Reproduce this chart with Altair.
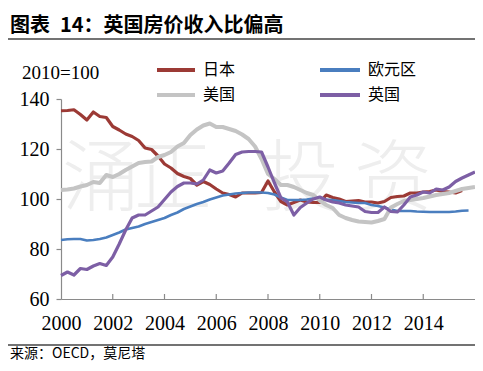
import altair as alt
import pandas as pd

series = ["日本", "欧元区", "美国", "英国"]
colors = ["#9C3A35", "#4A7EBF", "#C4C4C4", "#7D5FA5"]
widths = [3.2, 2.6, 4.0, 3.2]

x_ticks = [2000, 2002, 2004, 2006, 2008, 2010, 2012, 2014]
y_ticks = [60, 80, 100, 120, 140]

japan = [135.3, 135.4, 135.7, 133.8, 131.6, 134.8, 133.0, 132.6,
         129.0, 127.6, 126.0, 125.0, 123.4, 120.4, 119.8, 117.2,
         114.0, 112.4, 110.2, 109.0, 108.2, 105.6, 107.0, 105.8,
         104.0, 102.4, 101.8, 100.8, 102.4, 102.4, 102.4, 102.6,
         107.2, 102.8, 99.0, 97.6, 98.6, 99.6, 98.8, 98.6,
         98.6, 101.6, 100.6, 100.0, 99.0, 99.2, 99.4, 98.8,
         98.8, 98.4, 99.0, 100.6, 101.0, 101.2, 102.4, 102.4,
         102.8, 103.0, 103.6, 103.0, 102.8, 102.4, 103.4]

euro = [83.6, 83.9, 84.0, 84.0, 83.4, 83.6, 84.0, 84.6,
        85.6, 86.6, 87.8, 88.4, 89.0, 90.0, 90.8, 91.6,
        92.4, 93.6, 94.6, 96.0, 97.0, 98.0, 98.8, 99.8,
        100.6, 101.4, 101.8, 102.2, 102.4, 102.6, 102.6, 102.6,
        102.4, 101.8, 100.6, 99.6, 99.6, 99.6, 99.8, 100.2,
        100.2, 99.8, 99.6, 99.2, 98.8, 98.6, 98.4, 98.4,
        97.6, 97.2, 96.6, 95.8, 95.2, 95.2, 95.2, 95.0,
        94.9, 94.8, 94.8, 94.8, 94.8, 95.0, 95.3, 95.4]

usa = [103.6, 103.8, 104.2, 105.0, 105.6, 106.8, 106.4, 109.6,
       108.8, 110.0, 111.6, 113.0, 114.4, 114.8, 115.0, 116.8,
       117.6, 118.8, 121.0, 122.4, 125.6, 127.8, 129.4, 130.2,
       128.8, 128.8, 128.0, 127.2, 125.8, 124.0, 121.0, 116.0,
       110.0, 108.0, 105.6, 105.6, 104.8, 103.6, 102.4, 101.6,
       99.4, 97.6, 96.4, 93.6, 92.4, 91.6, 91.0, 90.8,
       90.6, 91.2, 92.0, 96.6, 98.0, 99.2, 99.6, 100.0,
       100.4, 101.0, 101.6, 102.0, 102.4, 103.2, 104.0, 104.4,
       104.8]

uk = [69.4, 70.8, 69.6, 72.2, 71.8, 73.2, 74.2, 73.4,
      76.8, 82.0, 87.6, 92.4, 93.6, 93.6, 95.2, 96.8,
      99.8, 102.8, 105.0, 106.4, 106.4, 106.0, 107.6, 111.6,
      110.4, 111.2, 114.4, 117.8, 118.8, 119.0, 119.0, 118.8,
      112.8, 106.4, 100.4, 98.8, 93.6, 96.6, 98.4, 100.0,
      100.8, 99.6, 98.8, 98.4, 97.6, 97.2, 96.8, 95.0,
      94.6, 94.6, 96.8, 95.0, 94.8, 97.6, 100.8, 101.6,
      102.8, 102.4, 104.0, 103.6, 104.8, 107.0, 108.4, 109.6,
      110.8]

rows = []
for name, vals in zip(series, [japan, euro, usa, uk]):
    for i, v in enumerate(vals):
        rows.append({"s": name, "t": 2000 + 0.25 * i, "v": v})
df = pd.DataFrame(rows)

AXIS_COLOR = "#8A8A8A"
LABEL_FONT = "Liberation Serif"
CJK = "Noto Sans CJK SC"

xenc = alt.X("t:Q",
             scale=alt.Scale(domain=[2000, 2016], nice=False, zero=False),
             axis=alt.Axis(values=x_ticks, format="d", ticks=False, grid=False,
                           title=None, domainColor=AXIS_COLOR, domainWidth=1.2,
                           labelFont=LABEL_FONT, labelFontSize=20, labelColor="#000",
                           labelPadding=14, labelFlush=False))
yenc = alt.Y("v:Q",
             scale=alt.Scale(domain=[60, 140], nice=False, zero=False),
             axis=alt.Axis(values=y_ticks, grid=False, title=None,
                           domainColor=AXIS_COLOR, domainWidth=1.2,
                           tickColor=AXIS_COLOR, tickSize=5, tickWidth=1.2,
                           labelFont=LABEL_FONT, labelFontSize=20, labelColor="#000",
                           labelPadding=7))
cenc = alt.Color("s:N", scale=alt.Scale(domain=series, range=colors), legend=None)

# watermark
wm = pd.DataFrame({"c": ["涌", "正", "投", "资"], "px": [40, 112, 239, 332]})
watermark = alt.Chart(wm).mark_text(font=CJK, fontSize=78, fontWeight=300,
                                    color="#EEEEEE", baseline="middle", align="center").encode(
    x=alt.X("px:Q", scale=None), y=alt.value(83), text="c:N")

layers = [watermark]
for name, w in zip(series, widths):
    layers.append(
        alt.Chart(df).transform_filter(alt.datum.s == name)
        .mark_line(strokeWidth=w, strokeJoin="round")
        .encode(x=xenc, y=yenc, color=cenc)
    )

# inward x ticks
tick_df = pd.DataFrame({"t": x_ticks[1:]})
xticks = alt.Chart(tick_df).mark_rule(color=AXIS_COLOR, strokeWidth=1.2).encode(
    x=xenc, y=alt.value(195), y2=alt.value(200))
layers.append(xticks)

# legend (manual)
leg = pd.DataFrame({
    "s": series,
    "x1": [96, 259, 96, 259],
    "x2": [134, 299, 134, 299],
    "ty": [-29, -29, -4, -4],
    "tx": [142, 307, 142, 307],
})
leg_lines = alt.Chart(leg).mark_rule(strokeWidth=4).encode(
    x=alt.X("x1:Q", scale=None), x2="x2:Q", y=alt.Y("ty:Q", scale=None), color=cenc)
leg_text = alt.Chart(leg).mark_text(font=CJK, fontSize=16, align="left",
                                    baseline="middle", color="#000").encode(
    x=alt.X("tx:Q", scale=None), y=alt.Y("ty:Q", scale=None), text="s:N")
layers += [leg_lines, leg_text]

# texts
def txt(s, x, y, **kw):
    return alt.Chart(pd.DataFrame({"s": [s]})).mark_text(**kw).encode(
        x=alt.value(x), y=alt.value(y), text="s:N")

layers.append(txt("图表\u200214：英国房价收入比偏高", -51, -73, font=CJK, fontSize=20,
                  fontWeight="bold", align="left", baseline="middle", color="#000"))
layers.append(txt("2010=100", -39, -26, font=LABEL_FONT, fontSize=19,
                  align="left", baseline="middle", color="#000"))
layers.append(txt("来源：OECD，莫尼塔", -51, 255, font=CJK, fontSize=14,
                  align="left", baseline="middle", color="#000"))

# separator lines
sep = pd.DataFrame({"y": [-60, 246]})
layers.append(alt.Chart(sep).mark_rule(color="#444444", strokeWidth=1.5).encode(
    x=alt.value(-53), x2=alt.value(414), y=alt.Y("y:Q", scale=None)))

chart = alt.layer(*layers).properties(
    width=414, height=200,
    autosize=alt.AutoSizeParams(type="none"),
    padding={"left": 53, "top": 91, "right": 0, "bottom": 64},
    background="white",
).configure_view(stroke=None)

chart.save("out.html", embed_options={"renderer": "svg", "actions": False})
